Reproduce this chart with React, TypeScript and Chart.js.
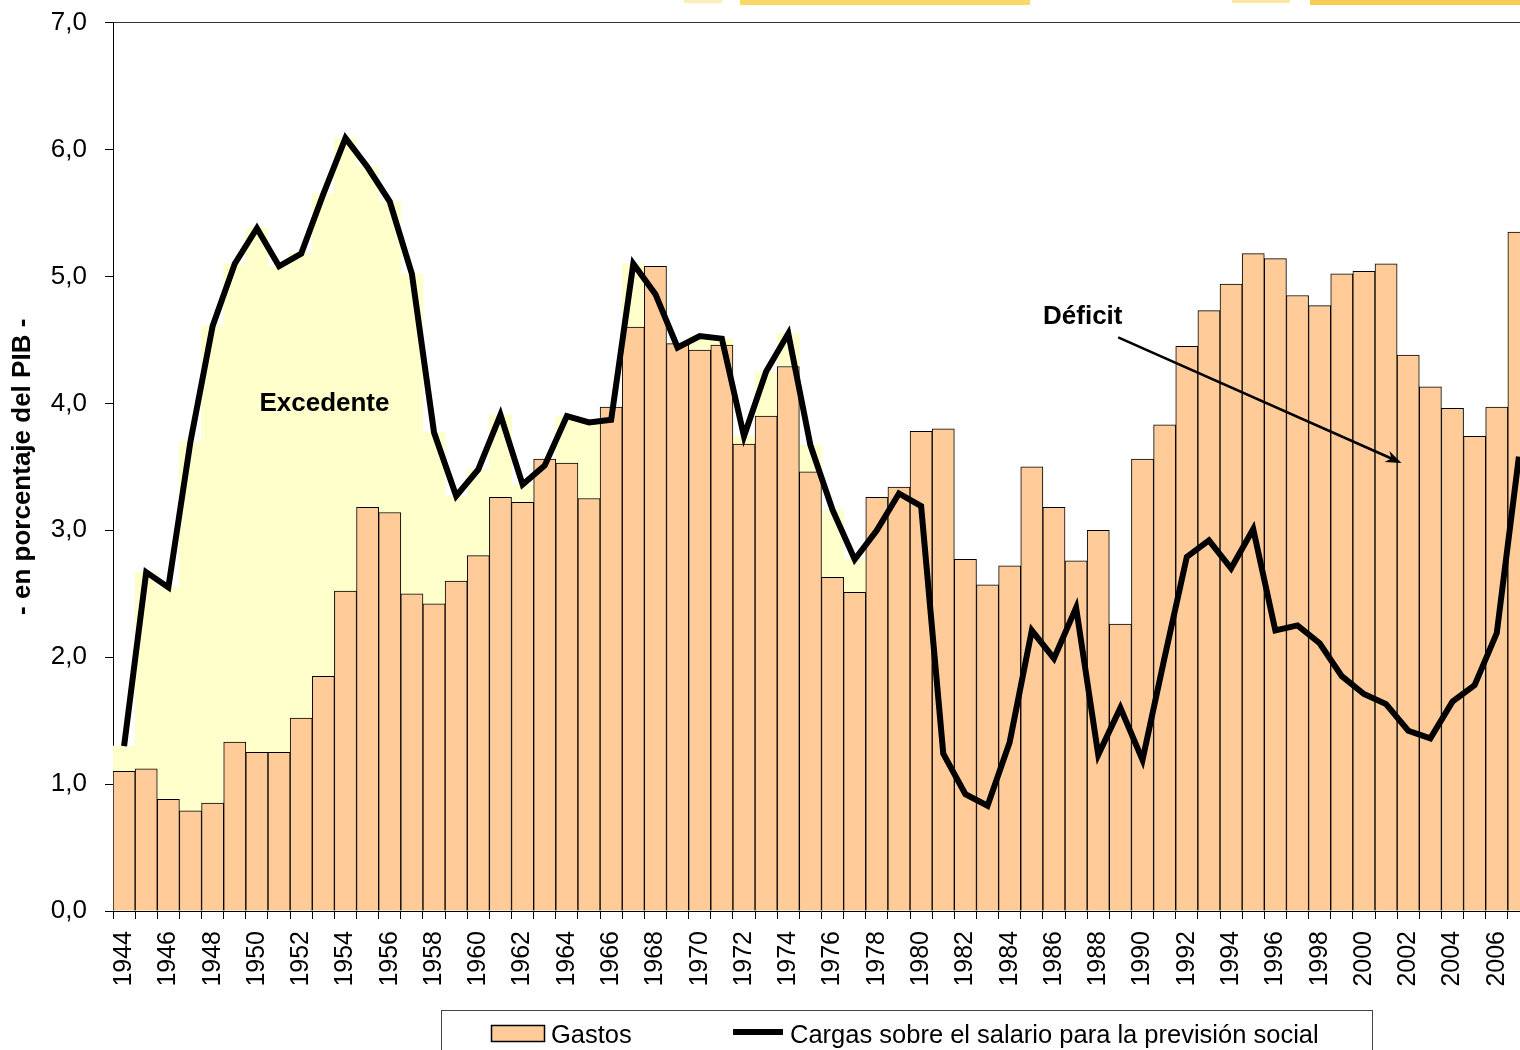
import React, { useEffect, useRef } from 'react';
import { Chart, registerables } from 'chart.js';

Chart.register(...registerables);

const FONT = "'Liberation Sans', Arial, Helvetica, sans-serif";
const SHIFT = 11; // canvas is raised by this many pixels

const years = [
  '1944', '1945', '1946', '1947', '1948', '1949', '1950', '1951', '1952', '1953',
  '1954', '1955', '1956', '1957', '1958', '1959', '1960', '1961', '1962', '1963',
  '1964', '1965', '1966', '1967', '1968', '1969', '1970', '1971', '1972', '1973',
  '1974', '1975', '1976', '1977', '1978', '1979', '1980', '1981', '1982', '1983',
  '1984', '1985', '1986', '1987', '1988', '1989', '1990', '1991', '1992', '1993',
  '1994', '1995', '1996', '1997', '1998', '1999', '2000', '2001', '2002', '2003',
  '2004', '2005', '2006', '2007',
];

// Gastos (bars), % of GDP
const gastos = [
  1.10, 1.12, 0.88, 0.79, 0.85, 1.33, 1.25, 1.25, 1.52, 1.85,
  2.52, 3.18, 3.14, 2.50, 2.42, 2.60, 2.80, 3.26, 3.22, 3.56,
  3.53, 3.25, 3.97, 4.60, 5.08, 4.47, 4.42, 4.46, 3.68, 3.90,
  4.29, 3.46, 2.63, 2.51, 3.26, 3.34, 3.78, 3.80, 2.77, 2.57,
  2.72, 3.50, 3.18, 2.76, 3.00, 2.26, 3.56, 3.83, 4.45, 4.73,
  4.94, 5.18, 5.14, 4.85, 4.77, 5.02, 5.04, 5.10, 4.38, 4.13,
  3.96, 3.74, 3.97, 5.35,
];

// Cargas sobre el salario para la previsión social (line), % of GDP
const cargas = [
  1.30, 2.67, 2.55, 3.70, 4.61, 5.10, 5.38, 5.08, 5.18, 5.65,
  6.09, 5.86, 5.59, 5.02, 3.77, 3.27, 3.48, 3.91, 3.36, 3.51,
  3.90, 3.85, 3.87, 5.10, 4.86, 4.44, 4.53, 4.51, 3.74, 4.25,
  4.55, 3.67, 3.16, 2.77, 3.00, 3.29, 3.19, 1.24, 0.92, 0.83,
  1.33, 2.21, 1.99, 2.39, 1.23, 1.60, 1.19, 2.00, 2.79, 2.92,
  2.70, 3.01, 2.21, 2.25, 2.11, 1.85, 1.71, 1.63, 1.42, 1.36,
  1.65, 1.78, 2.19, 3.58,
];

const seriesLabels = ['Gastos', 'Cargas sobre el salario para la previsión social'];
const yTitle = '- en porcentaje del PIB -';

// annotation anchors: [year (fractional), value]
const excedenteAt = [1953.05, 4.0];
const deficitAt = [1987.3, 4.68];
const arrowFrom = [1988.9, 4.52];
const arrowTo = [2001.7, 3.53];

const BAR_FILL = '#FFCC99';
const SURPLUS_FILL = '#FFFFCC';

const decorPlugin = {
  id: 'decor',
  afterDatasetsDraw(chart: any) {
    const { ctx, scales } = chart;
    const x = scales.x;
    const y = scales.y;
    const px = (yr: number) => x.getPixelForValue(yr - 1944);
    const py = (v: number) => y.getPixelForValue(v);
    ctx.save();
    ctx.fillStyle = '#000';
    ctx.font = `bold 26px ${FONT}`;
    ctx.textAlign = 'center';
    ctx.textBaseline = 'middle';
    ctx.fillText('Excedente', px(excedenteAt[0]), py(excedenteAt[1]));
    ctx.fillText('Déficit', px(deficitAt[0]), py(deficitAt[1]));

    // arrow
    const x1 = px(arrowFrom[0]);
    const y1 = py(arrowFrom[1]);
    const x2 = px(arrowTo[0]);
    const y2 = py(arrowTo[1]);
    const ang = Math.atan2(y2 - y1, x2 - x1);
    ctx.strokeStyle = '#000';
    ctx.lineWidth = 2.5;
    ctx.beginPath();
    ctx.moveTo(x1, y1);
    ctx.lineTo(x2 - Math.cos(ang) * 8, y2 - Math.sin(ang) * 8);
    ctx.stroke();
    const L = 16;
    const W = 6;
    ctx.beginPath();
    ctx.moveTo(x2, y2);
    ctx.lineTo(x2 - Math.cos(ang) * L + Math.sin(ang) * W, y2 - Math.sin(ang) * L - Math.cos(ang) * W);
    ctx.lineTo(x2 - Math.cos(ang) * (L - 5), y2 - Math.sin(ang) * (L - 5));
    ctx.lineTo(x2 - Math.cos(ang) * L - Math.sin(ang) * W, y2 - Math.sin(ang) * L + Math.cos(ang) * W);
    ctx.closePath();
    ctx.fill();
    ctx.restore();
  },
  afterDraw(chart: any) {
    const { ctx } = chart;
    ctx.save();
    ctx.translate(0, SHIFT);
    // faint decorative strips at the very top
    const strips: [number, number, number, string][] = [
      [684, 722, 3, '#FCEFB8'],
      [740, 1030, 5, '#F8D866'],
      [1232, 1290, 3, '#FBE7A0'],
      [1310, 1520, 5, '#F6CC50'],
    ];
    strips.forEach(([a, b, h, c]) => {
      ctx.fillStyle = c;
      ctx.fillRect(a, 0, b - a, h);
    });

    // legend
    ctx.strokeStyle = '#444';
    ctx.lineWidth = 1;
    ctx.strokeRect(441.5, 1010.5, 931, 60);

    ctx.fillStyle = BAR_FILL;
    ctx.fillRect(491, 1025, 54, 17);
    ctx.strokeStyle = '#000';
    ctx.lineWidth = 1.5;
    ctx.strokeRect(491.5, 1025.5, 53, 16);

    ctx.fillStyle = '#000';
    ctx.font = `25.5px ${FONT}`;
    ctx.textAlign = 'left';
    ctx.textBaseline = 'alphabetic';
    ctx.fillText(seriesLabels[0], 551, 1043);

    ctx.strokeStyle = '#000';
    ctx.lineWidth = 6;
    ctx.beginPath();
    ctx.moveTo(733, 1032);
    ctx.lineTo(783, 1032);
    ctx.stroke();
    ctx.fillText(seriesLabels[1], 790, 1043);
    ctx.restore();
  },
};

export default function App() {
  const canvasRef = useRef<HTMLCanvasElement | null>(null);

  useEffect(() => {
    const canvas = canvasRef.current;
    if (!canvas) return;
    const chart = new Chart(canvas, {
      type: 'bar',
      data: {
        labels: years,
        datasets: [
          {
            type: 'line',
            label: seriesLabels[1],
            data: cargas,
            borderColor: '#000',
            backgroundColor: '#000',
            borderWidth: 6,
            pointRadius: 0,
            tension: 0,
            fill: false,
            order: 0,
          } as any,
          {
            type: 'bar',
            label: seriesLabels[0],
            data: gastos,
            backgroundColor: BAR_FILL,
            borderColor: '#000',
            borderWidth: 1,
            barPercentage: 1,
            categoryPercentage: 1,
            grouped: false,
            order: 1,
          } as any,
          {
            type: 'bar',
            label: 'Excedente',
            data: cargas,
            backgroundColor: SURPLUS_FILL,
            borderWidth: 0,
            barPercentage: 1,
            categoryPercentage: 1,
            grouped: false,
            order: 2,
          } as any,
        ],
      },
      options: {
        animation: false,
        responsive: false,
        devicePixelRatio: 1,
        layout: { padding: { left: 0, right: 11, top: 11, bottom: 0 } },
        plugins: {
          legend: { display: false },
          tooltip: { enabled: false },
        },
        scales: {
          x: {
            grid: {
              display: true,
              drawOnChartArea: false,
              drawTicks: true,
              tickLength: 8,
              color: '#000',
              offset: true,
            },
            border: { display: true, color: '#000', width: 1 },
            ticks: {
              autoSkip: false,
              minRotation: 90,
              maxRotation: 90,
              padding: 12,
              color: '#000',
              font: { family: FONT, size: 25 },
              callback: (_v: any, i: number) => (i % 2 === 0 ? years[i] : ''),
            },
            afterFit: (s: any) => {
              s.height = 139;
            },
          },
          y: {
            min: 0,
            max: 7,
            ticks: {
              stepSize: 1,
              padding: 18,
              color: '#000',
              font: { family: FONT, size: 26 },
              callback: (v: any) => Number(v).toFixed(1).replace('.', ','),
            },
            grid: {
              drawOnChartArea: true,
              tickLength: 8,
              color: (c: any) => (c.tick && c.tick.value === 7 ? '#333' : 'rgba(0,0,0,0)'),
              tickColor: '#000',
            },
            border: { display: true, color: '#000', width: 1 },
            title: {
              display: true,
              text: yTitle,
              color: '#000',
              font: { family: FONT, size: 26, weight: 'bold', lineHeight: 1 },
              padding: { top: 10, bottom: 0 },
            },
            afterFit: (s: any) => {
              s.width = 113;
            },
          },
        },
      } as any,
      plugins: [decorPlugin],
    });
    return () => chart.destroy();
  }, []);

  return (
    <div style={{ position: 'fixed', left: 0, top: -SHIFT, width: 1561, height: 1050 + SHIFT, background: '#fff' }}>
      <canvas
        ref={canvasRef}
        width={1561}
        height={1050 + SHIFT}
        style={{ width: 1561, height: 1050 + SHIFT, display: 'block' }}
      />
    </div>
  );
}
